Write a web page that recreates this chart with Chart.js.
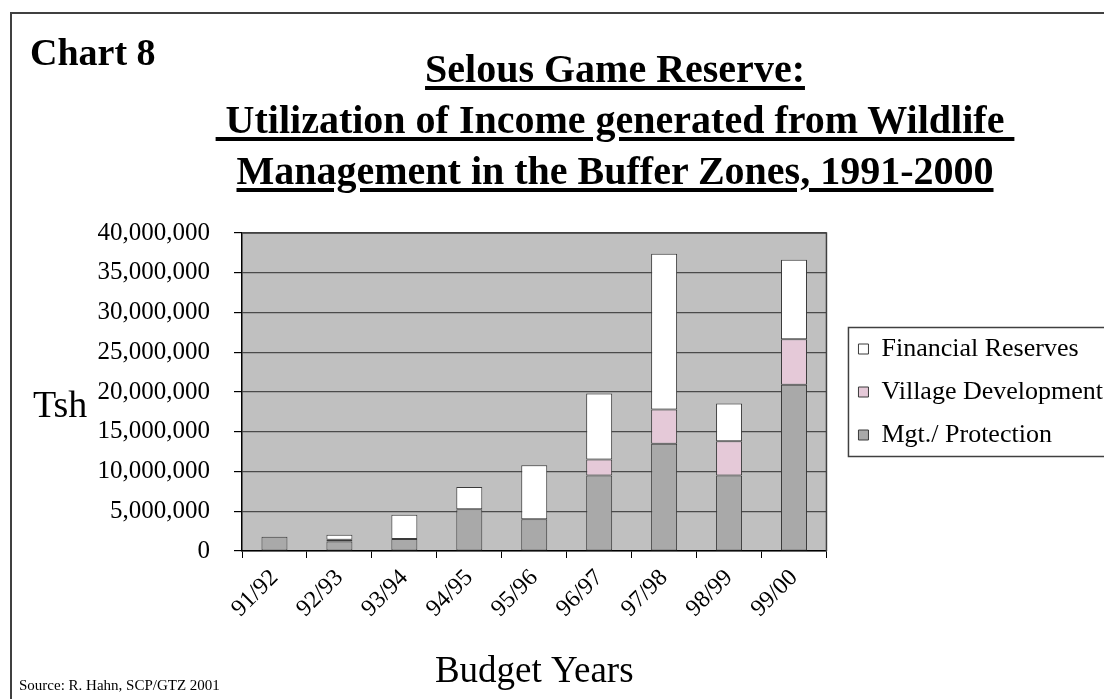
<!DOCTYPE html>
<html>
<head>
<meta charset="utf-8">
<script src="https://cdn.jsdelivr.net/npm/chart.js@4.4.1/dist/chart.umd.min.js"></script>
<style>
  html, body { margin: 0; padding: 0; background: #fff; overflow: hidden; }
  #wrap { position: relative; width: 1104px; height: 699px; font-family: 'Liberation Serif', 'Times New Roman', serif; color: #000; }
  #frame { position: absolute; left: 10px; top: 12px; width: 1200px; height: 800px; border: 2px solid #404040; box-sizing: border-box; pointer-events: none; }
  canvas { position: absolute; left: 0; top: 0; }
  .txt { position: absolute; white-space: pre; line-height: 1; }
  #chartNo { left: 30px; top: 33px; font-size: 38px; font-weight: bold; }
  #title { left: 115px; width: 1000px; top: 43px; text-align: center; font-size: 40px; font-weight: bold; line-height: 51px; }
  #title span { text-decoration: underline; text-decoration-thickness: 4px; text-underline-offset: 4px; }
  #ylab { left: 33px; top: 385px; font-size: 38px; }
  #source { left: 19px; top: 678px; font-size: 15px; }
</style>
</head>
<body>
<div id="wrap">
  <canvas id="chart" width="1104" height="699"></canvas>
  <div id="frame"></div>
  <div class="txt" id="chartNo">Chart 8</div>
  <div class="txt" id="title"><span>Selous Game Reserve:</span><br><span> Utilization of Income generated from Wildlife </span><br><span>Management in the Buffer Zones, 1991-2000</span></div>
  <div class="txt" id="ylab">Tsh</div>
  <div class="txt" id="source">Source: R. Hahn, SCP/GTZ 2001</div>
</div>
<script>
const years = ['91/92', '92/93', '93/94', '94/95', '95/96', '96/97', '97/98', '98/99', '99/00'];
const mgtProtection = [1800000, 1200000, 1500000, 5250000, 4000000, 9500000, 13500000, 9500000, 20900000];
const villageDev = [0, 200000, 0, 0, 0, 2000000, 4300000, 4300000, 5750000];
const financialRes = [0, 640000, 3050000, 2800000, 6800000, 8300000, 19600000, 4750000, 10000000];
const yTicks = [0, 5000000, 10000000, 15000000, 20000000, 25000000, 30000000, 35000000, 40000000];

const serif = "'Liberation Serif', 'Times New Roman', serif";

// grey plot area + frame around it
const plotArea = {
    id: 'plotArea',
    beforeDraw(chart) {
        const { ctx, chartArea: a } = chart;
        ctx.save();
        ctx.fillStyle = '#c0c0c0';
        ctx.fillRect(a.left, a.top, a.right - a.left, a.bottom - a.top);
        ctx.restore();
    },
    beforeDatasetsDraw(chart) {
        const { ctx, chartArea: a } = chart;
        ctx.save();
        ctx.strokeStyle = '#404040';
        ctx.lineWidth = 1.5;
        ctx.beginPath();
        ctx.moveTo(a.left, a.top);
        ctx.lineTo(a.right, a.top);
        ctx.lineTo(a.right, a.bottom);
        ctx.stroke();
        ctx.restore();
    }
};

// move legend a bit right and draw a box round it
const legendBox = {
    id: 'legendBox',
    afterLayout(chart) {
        chart.legend.left += 15;
        chart.legend.right += 15;
    },
    afterDraw(chart) {
        const boxes = chart.legend.legendHitBoxes;
        if (!boxes || !boxes.length) return;
        const first = boxes[0], last = boxes[boxes.length - 1];
        const { ctx } = chart;
        ctx.save();
        ctx.strokeStyle = '#404040';
        ctx.lineWidth = 1.5;
        ctx.strokeRect(first.left - 10, first.top - 8.5, 400, last.top + last.height - first.top + 17);
        ctx.restore();
    }
};

new Chart(document.getElementById('chart').getContext('2d'), {
    type: 'bar',
    data: {
        labels: years,
        datasets: [
            {
                label: 'Mgt./ Protection',
                data: mgtProtection,
                backgroundColor: '#a9a9a9',
                borderColor: '#3a3a3a',
                borderWidth: 1,
                borderSkipped: false
            },
            {
                label: 'Village Development',
                data: villageDev,
                backgroundColor: '#e5c9d8',
                borderColor: '#3a3a3a',
                borderWidth: 1,
                borderSkipped: false
            },
            {
                label: 'Financial Reserves',
                data: financialRes,
                backgroundColor: '#ffffff',
                borderColor: '#3a3a3a',
                borderWidth: 1,
                borderSkipped: false
            }
        ]
    },
    options: {
        responsive: false,
        animation: false,
        layout: { padding: { top: 233, left: 0, right: 6, bottom: 5 } },
        datasets: { bar: { barPercentage: 0.4, categoryPercentage: 1 } },
        plugins: {
            tooltip: { enabled: false },
            legend: {
                position: 'right',
                fullSize: false,
                reverse: true,
                align: 'center',
                labels: {
                    boxWidth: 10,
                    boxHeight: 10,
                    padding: 17,
                    color: '#000',
                    font: { family: serif, size: 26 }
                }
            }
        },
        scales: {
            x: {
                stacked: true,
                afterFit: (scale) => { scale.height = 143; },
                grid: { drawOnChartArea: false, drawTicks: true, tickLength: 7, tickColor: '#000' },
                border: { display: true, color: '#000', width: 1.5 },
                ticks: {
                    color: '#000',
                    font: { family: serif, size: 24 },
                    maxRotation: 45,
                    minRotation: 45,
                    padding: 6
                },
                title: {
                    display: true,
                    text: 'Budget Years',
                    color: '#000',
                    font: { family: serif, size: 37 },
                    padding: 0
                }
            },
            y: {
                stacked: true,
                min: 0,
                max: 40000000,
                afterFit: (scale) => { scale.width = 242; },
                afterBuildTicks: (scale) => { scale.ticks = yTicks.map(v => ({ value: v })); },
                grid: { color: '#4a4a4a', lineWidth: 1.2, tickLength: 8, tickColor: '#000' },
                border: { display: true, color: '#000', width: 1.5 },
                ticks: {
                    color: '#000',
                    font: { family: serif, size: 25 },
                    padding: 24,
                    callback: (v) => v.toLocaleString('en-US')
                }
            }
        }
    },
    plugins: [plotArea, legendBox]
});
</script>
</body>
</html>
